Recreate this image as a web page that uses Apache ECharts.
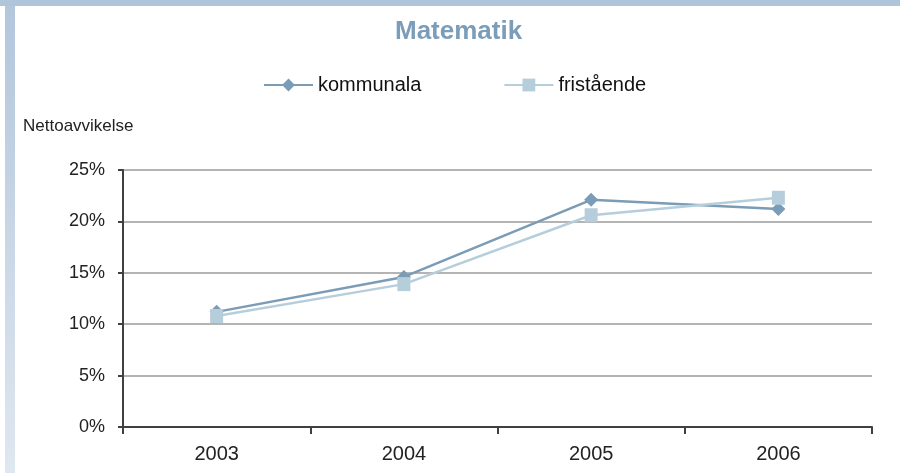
<!DOCTYPE html>
<html>
<head>
<meta charset="utf-8">
<script src="https://cdn.jsdelivr.net/npm/echarts@6/dist/echarts.min.js"></script>
<style>
html,body{margin:0;padding:0;background:#fff;}
#chart{width:900px;height:473px;}
</style>
</head>
<body>
<div id="chart"></div>
<script>
var chartTitle = 'Matematik';
var yAxisTitle = 'Nettoavvikelse';
var categories = ['2003', '2004', '2005', '2006'];
var seriesNames = ['kommunala', 'fristående'];
var kommunala = [11.2, 14.6, 22.1, 21.2];
var fristaende = [10.8, 13.9, 20.6, 22.3];
var yTicks = [0, 5, 10, 15, 20, 25];

var FONT = '"Liberation Sans", Arial, sans-serif';
var chart = echarts.init(document.getElementById('chart'), null, {renderer: 'canvas'});
chart.setOption({
  animation: false,
  backgroundColor: '#ffffff',
  title: {
    text: chartTitle,
    left: 395,
    top: 17,
    padding: 0,
    textStyle: {fontFamily: FONT, fontSize: 26, fontWeight: 'bold', color: '#7c9db9', lineHeight: 30}
  },
  legend: {
    left: 263,
    top: 75,
    padding: 0,
    itemWidth: 49,
    itemHeight: 16,
    itemGap: 82,
    textStyle: {fontFamily: FONT, fontSize: 20, color: '#111'},
    data: seriesNames
  },
  graphic: [
    {type: 'rect', left: 0, top: 0, shape: {width: 900, height: 6}, style: {fill: '#b0c4da'}, silent: true},
    {type: 'rect', left: 5, top: 6, shape: {width: 10, height: 467},
      style: {fill: new echarts.graphic.LinearGradient(0, 0, 0, 1, [{offset: 0, color: '#b3c6dc'}, {offset: 1, color: '#dfe7f0'}])}, silent: true},
    {type: 'text', left: 23, top: 118, style: {text: yAxisTitle, font: '17px ' + FONT, fill: '#222'}, silent: true}
  ],
  grid: {left: 123, right: 28, top: 170, bottom: 46},
  xAxis: {
    type: 'category',
    data: categories,
    boundaryGap: true,
    axisLine: {lineStyle: {color: '#404040', width: 2}},
    axisTick: {show: true, length: 7, lineStyle: {color: '#404040', width: 2}},
    axisLabel: {fontFamily: FONT, fontSize: 20, color: '#222', margin: 17}
  },
  yAxis: {
    type: 'value',
    min: yTicks[0],
    max: yTicks[yTicks.length - 1],
    interval: 5,
    axisLine: {show: true, lineStyle: {color: '#404040', width: 2}},
    axisTick: {show: true, length: 5, lineStyle: {color: '#404040', width: 2}},
    axisLabel: {fontFamily: FONT, fontSize: 18, color: '#222', margin: 18, formatter: function (v) { return v + '%'; }},
    splitLine: {lineStyle: {color: '#b4b4b4', width: 2}}
  },
  series: [
    {
      name: seriesNames[0], type: 'line', data: kommunala,
      symbol: 'diamond', symbolSize: 14,
      lineStyle: {color: '#7a9cb6', width: 2.5},
      itemStyle: {color: '#7a9cb6'}
    },
    {
      name: seriesNames[1], type: 'line', data: fristaende,
      symbol: 'rect', symbolSize: [13, 14],
      lineStyle: {color: '#b6cedc', width: 2.5},
      itemStyle: {color: '#b6cedc'}
    }
  ]
});
</script>
</body>
</html>
